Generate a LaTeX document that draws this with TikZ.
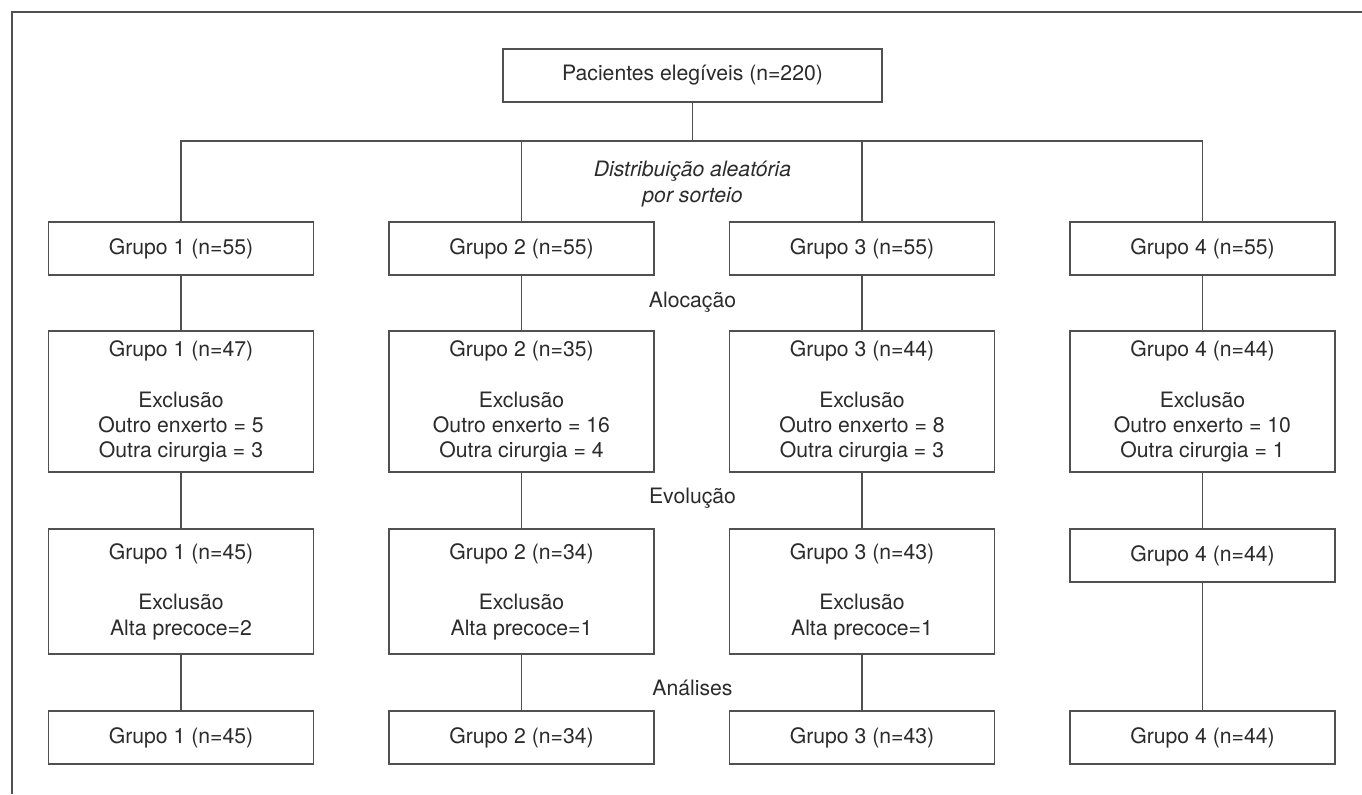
\documentclass[tikz,border=0pt]{standalone}
\usepackage{fontspec}
\setmainfont{TeX Gyre Heros}
\usetikzlibrary{positioning}

\definecolor{linegray}{HTML}{505050}
\definecolor{textgray}{HTML}{2B2B2B}

\begin{document}
\begin{tikzpicture}[
  x=0.5pt, y=-0.5pt,
  font=\fontsize{10.6}{12.7}\selectfont,
  text=textgray,
  ln/.style={draw=linegray, line width=0.8pt},
  blk/.style={ln, fill=white, align=center, inner sep=2pt,
              minimum width=132.5pt, minimum height=#1},
  blk/.default=26.5pt,
  lbl/.style={align=center, inner sep=0pt},
]

\useasboundingbox (0,0) rectangle (1362,794);
\draw[ln] (12,794) |- (1362,12);

%% ===== TOP =====

\node[blk, minimum width=189.5pt] (elig) at (692.5,75.5)
    {Pacientes eleg\'iveis (n=220)};

\coordinate (bus) at (692.5,141);

\node[lbl, font=\fontsize{10.6}{12.7}\selectfont\itshape] (sorteio) at (692.5,184)
    {Distribui\c{c}\~ao aleat\'oria\\por sorteio};

%% ===== ROW 1: ALLOCATION =====

\node[blk] (g1a) at (181,248.5)   {Grupo 1 (n=55)};
\node[blk] (g2a) at (521.5,248.5) {Grupo 2 (n=55)};
\node[blk] (g3a) at (862,248.5)   {Grupo 3 (n=55)};
\node[blk] (g4a) at (1202.5,248.5){Grupo 4 (n=55)};

\node[lbl] (aloc) at (692.5,302) {Aloca\c{c}\~ao};

%% ===== ROW 2 =====

\node[blk=70.5pt] (g1b) at (181,401.5)
    {Grupo 1 (n=47)\\[12.7pt]Exclus\~ao\\Outro enxerto = 5\\Outra cirurgia = 3};
\node[blk=70.5pt] (g2b) at (521.5,401.5)
    {Grupo 2 (n=35)\\[12.7pt]Exclus\~ao\\Outro enxerto = 16\\Outra cirurgia = 4};
\node[blk=70.5pt] (g3b) at (862,401.5)
    {Grupo 3 (n=44)\\[12.7pt]Exclus\~ao\\Outro enxerto = 8\\Outra cirurgia = 3};
\node[blk=70.5pt] (g4b) at (1202.5,401.5)
    {Grupo 4 (n=44)\\[12.7pt]Exclus\~ao\\Outro enxerto = 10\\Outra cirurgia = 1};

\node[lbl] (evol) at (692.5,498) {Evolu\c{c}\~ao};

%% ===== ROW 3 =====

\node[blk=62.5pt] (g1c) at (181,591.5)
    {Grupo 1 (n=45)\\[12.7pt]Exclus\~ao\\Alta precoce=2};
\node[blk=62.5pt] (g2c) at (521.5,591.5)
    {Grupo 2 (n=34)\\[12.7pt]Exclus\~ao\\Alta precoce=1};
\node[blk=62.5pt] (g3c) at (862,591.5)
    {Grupo 3 (n=43)\\[12.7pt]Exclus\~ao\\Alta precoce=1};
\node[blk] (g4c) at (1202.5,555.5) {Grupo 4 (n=44)};

\node[lbl] (anal) at (692.5,688) {An\'alises};

%% ===== ROW 4: ANALYSIS =====

\node[blk] (g1d) at (181,737.5)   {Grupo 1 (n=45)};
\node[blk] (g2d) at (521.5,737.5) {Grupo 2 (n=34)};
\node[blk] (g3d) at (862,737.5)   {Grupo 3 (n=43)};
\node[blk] (g4d) at (1202.5,737.5){Grupo 4 (n=44)};

%% ===== CONNECTORS =====

\draw[ln] (elig.south) -- (bus);
\draw[ln] (g1a.north) |- (bus) -| (g4a.north);
\draw[ln] (g2a.north) -- (g2a.north |- bus);
\draw[ln] (g3a.north) -- (g3a.north |- bus);

\draw[ln] (g1a) -- (g1b);
\draw[ln] (g2a) -- (g2b);
\draw[ln] (g3a) -- (g3b);
\draw[ln] (g4a) -- (g4b);

\draw[ln] (g1b) -- (g1c);
\draw[ln] (g2b) -- (g2c);
\draw[ln] (g3b) -- (g3c);
\draw[ln] (g4b) -- (g4c);

\draw[ln] (g1c) -- (g1d);
\draw[ln] (g2c) -- (g2d);
\draw[ln] (g3c) -- (g3d);
\draw[ln] (g4c) -- (g4d);

\end{tikzpicture}
\end{document}
